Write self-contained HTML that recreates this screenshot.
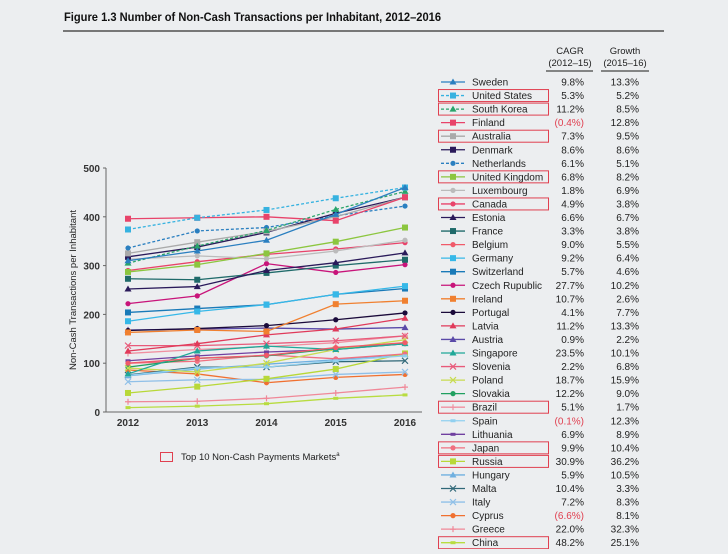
<!DOCTYPE html>
<html><head><meta charset="utf-8"><style>
body{margin:0;width:728px;height:549px;background:#eceef0;font-family:"Liberation Sans",sans-serif;overflow:hidden}
</style></head><body>
<svg id="s" width="728" height="549" xmlns="http://www.w3.org/2000/svg" font-family="Liberation Sans, sans-serif"></svg>
<script>
var S=document.getElementById('s');var h='';
h+='<text x="64" y="21" font-size="12" font-weight="bold" fill="#111" textLength="377" lengthAdjust="spacingAndGlyphs">Figure 1.3 Number of Non-Cash Transactions per Inhabitant, 2012–2016</text>';
h+='<line x1="63" y1="31" x2="664" y2="31" stroke="#777" stroke-width="2"/>';
function Y(v){return 412-v*0.488;}function X(i){return 128+69.25*i;}
h+='<line x1="106" y1="168" x2="106" y2="412" stroke="#666"/><line x1="106" y1="412" x2="422" y2="412" stroke="#666"/>';
for(var v=0;v<=500;v+=100){h+='<text x="100" y="'+(Y(v)+4)+'" font-size="10" font-weight="bold" text-anchor="end" fill="#333">'+v+'</text><line x1="103" x2="106" y1="'+Y(v)+'" y2="'+Y(v)+'" stroke="#666"/>';}
for(var i=0;i<5;i++){h+='<text x="'+X(i)+'" y="426" font-size="10" font-weight="bold" text-anchor="middle" fill="#333">'+(2012+i)+'</text>';}
h+='<text transform="translate(76,290) rotate(-90)" font-size="9.5" text-anchor="middle" fill="#222">Non-Cash Transactions per Inhabitant</text>';
var D=[
["Sweden","#2a7fc0","t",0,"9.8%","13.3%",[310,330,352,405,460]],
["United States","#36b2e0","s",1,"5.3%","5.2%",[374,398,414,438,460],1],
["South Korea","#2aa46a","t",1,"11.2%","8.5%",[305,340,372,415,452],1],
["Finland","#e8436a","s",0,"(0.4%)","12.8%",[396,398,400,392,440]],
["Australia","#aaaaaa","s",0,"7.3%","9.5%",[325,348,370,400,440],1],
["Denmark","#2a1a5a","s",0,"8.6%","8.6%",[318,338,368,407,440]],
["Netherlands","#2a7fc0","c",1,"6.1%","5.1%",[336,371,378,402,422]],
["United Kingdom","#8cc63f","s",0,"6.8%","8.2%",[287,302,325,349,378],1],
["Luxembourg","#bbbbbb","c",0,"1.8%","6.9%",[313,320,314,330,352]],
["Canada","#e8436a","c",0,"4.9%","3.8%",[290,308,323,334,347],1],
["Estonia","#2a1a5a","t",0,"6.6%","6.7%",[252,257,290,306,326]],
["France","#1f6a6a","s",0,"3.3%","3.8%",[273,271,285,300,312]],
["Belgium","#f05a6a","c",0,"9.0%","5.5%",[100,110,116,132,142]],
["Germany","#36b8e8","s",0,"9.2%","6.4%",[186,206,220,241,258]],
["Switzerland","#1a7ab8","s",0,"5.7%","4.6%",[204,212,220,241,253]],
["Czech Rupublic","#c8147a","c",0,"27.7%","10.2%",[222,238,304,286,302]],
["Ireland","#f08030","s",0,"10.7%","2.6%",[163,168,165,221,228]],
["Portugal","#1a0a3a","c",0,"4.1%","7.7%",[167,171,177,189,203]],
["Latvia","#e03a5a","t",0,"11.2%","13.3%",[125,140,158,170,192]],
["Austria","#5a4aa8","t",0,"0.9%","2.2%",[168,170,172,170,173]],
["Singapore","#20a898","t",0,"23.5%","10.1%",[78,125,135,128,140]],
["Slovenia","#e85a7a","x",0,"2.2%","6.8%",[136,136,140,146,156]],
["Poland","#c8dc50","x",0,"18.7%","15.9%",[90,82,100,128,148]],
["Slovakia","#20a060","c",0,"12.2%","9.0%",[92,110,115,130,140]],
["Brazil","#f090a0","p",0,"5.1%","1.7%",[120,128,134,142,156],1],
["Spain","#90d0f0","n",0,"(0.1%)","12.3%",[75,90,92,105,115]],
["Lithuania","#7040a0","n",0,"6.9%","8.9%",[105,115,123,128,140]],
["Japan","#f07080","c",0,"9.9%","10.4%",[100,104,117,109,119],1],
["Russia","#b8d838","s",0,"30.9%","36.2%",[39,52,68,88,120],1],
["Hungary","#70b0e0","t",0,"5.9%","10.5%",[74,88,98,107,118]],
["Malta","#306878","x",0,"10.4%","3.3%",[76,92,92,103,105]],
["Italy","#90c0e8","x",0,"7.2%","8.3%",[62,66,67,77,82]],
["Cyprus","#f07030","c",0,"(6.6%)","8.1%",[86,78,60,71,77]],
["Greece","#f08898","p",0,"22.0%","32.3%",[21,22,28,39,51]],
["China","#b8dc40","n",0,"48.2%","25.1%",[9,12,17,28,35],1]];
function mk(t,x,y,c){if(t=="s")return '<rect x="'+(x-3)+'" y="'+(y-3)+'" width="6" height="6" fill="'+c+'"/>';
if(t=="c")return '<circle cx="'+x+'" cy="'+y+'" r="2.6" fill="'+c+'"/>';
if(t=="t")return '<polygon points="'+x+','+(y-3.5)+' '+(x-3.5)+','+(y+2.5)+' '+(x+3.5)+','+(y+2.5)+'" fill="'+c+'"/>';
if(t=="x")return '<path d="M'+(x-3)+' '+(y-3)+'L'+(x+3)+' '+(y+3)+'M'+(x+3)+' '+(y-3)+'L'+(x-3)+' '+(y+3)+'" stroke="'+c+'" stroke-width="1.2"/>';
if(t=="p")return '<path d="M'+(x-3)+' '+y+'H'+(x+3)+'M'+x+' '+(y-3)+'V'+(y+3)+'" stroke="'+c+'" stroke-width="1.2"/>';
return '<rect x="'+(x-2.5)+'" y="'+(y-1.5)+'" width="5" height="3" fill="'+c+'"/>';}
for(var k=D.length-1;k>=0;k--){var d=D[k],p=[];for(var i=0;i<5;i++)p.push(X(i)+','+Y(d[6][i]));
h+='<polyline points="'+p.join(' ')+'" fill="none" stroke="'+d[1]+'" stroke-width="1.3"'+(d[3]?' stroke-dasharray="3,2"':'')+'/>';
for(var i=0;i<5;i++)h+=mk(d[2],X(i),Y(d[6][i]),d[1]);}
h+='<text x="570" y="54" font-size="9.5" text-anchor="middle" fill="#222">CAGR</text><text x="570" y="66" font-size="9.5" text-anchor="middle" fill="#222">(2012–15)</text>';
h+='<text x="625" y="54" font-size="9.5" text-anchor="middle" fill="#222">Growth</text><text x="625" y="66" font-size="9.5" text-anchor="middle" fill="#222">(2015–16)</text>';
h+='<line x1="546" x2="593" y1="71" y2="71" stroke="#444" stroke-width="1.2"/><line x1="601" x2="649" y1="71" y2="71" stroke="#444" stroke-width="1.2"/>';
for(var k=0;k<D.length;k++){var d=D[k],y=82+k*13.55;
h+='<line x1="441" x2="465" y1="'+y+'" y2="'+y+'" stroke="'+d[1]+'" stroke-width="1.3"'+(d[3]?' stroke-dasharray="3,2"':'')+'/>'+mk(d[2],453,y,d[1]);
h+='<text x="472" y="'+(y+3.5)+'" font-size="10" fill="#222">'+d[0]+'</text>';
var red=d[4].charAt(0)=="(";
h+='<text x="584" y="'+(y+3.5)+'" font-size="10" text-anchor="end" fill="'+(red?'#e04050':'#222')+'">'+d[4]+'</text>';
h+='<text x="639" y="'+(y+3.5)+'" font-size="10" text-anchor="end" fill="#222">'+d[5]+'</text>';
if(d[7])h+='<rect x="438.5" y="'+(y-6)+'" width="110" height="12" fill="none" stroke="#e04050" stroke-width="1"/>';}
h+='<rect x="160.5" y="452.5" width="12" height="9" fill="none" stroke="#e04050"/><text x="181" y="460" font-size="9.5" fill="#222">Top 10 Non-Cash Payments Markets<tspan font-size="6" dy="-4">a</tspan></text>';
S.innerHTML=h;
</script>
</body></html>
